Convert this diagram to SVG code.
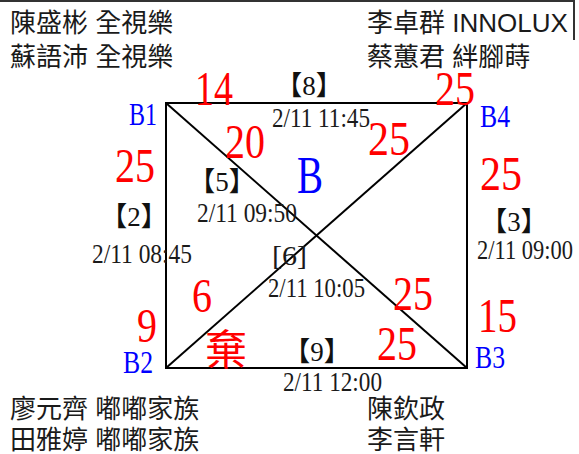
<svg xmlns="http://www.w3.org/2000/svg" width="579" height="454" viewBox="0 0 579 454">
<style>
.name{font-family:"Liberation Sans","Noto Sans CJK TC",sans-serif;font-size:26px;fill:#1a1a1a}
.num{font-family:"Liberation Serif","Noto Sans CJK TC",serif;font-size:48px;fill:#ff0000}
.node{font-family:"Liberation Serif",serif;font-size:32px;fill:#0000ff}
.date{font-family:"Liberation Serif",serif;font-size:28px;fill:#1a1a1a}
.tag{font-family:"Liberation Serif","Noto Sans CJK TC",serif;font-size:27px;fill:#111;text-anchor:middle}
.edge{stroke:#000;stroke-width:2;fill:none}
</style>
<rect width="579" height="454" fill="#fff"/>
<g id="border">
<line x1="0" y1="1" x2="575" y2="1" stroke="#333" stroke-width="2"/>
<line x1="574" y1="0" x2="574" y2="40" stroke="#333" stroke-width="2"/>
</g>
<g id="teams">
<text class="name" x="10" y="32">陳盛彬 全視樂</text>
<text class="name" x="10" y="66">蘇語沛 全視樂</text>
<text class="name" x="367" y="32">李卓群 INNOLUX</text>
<text class="name" x="367" y="66">蔡蕙君 絆腳蒔</text>
<text class="name" x="10" y="418">廖元齊 嘟嘟家族</text>
<text class="name" x="10" y="449">田雅婷 嘟嘟家族</text>
<text class="name" x="367" y="418">陳欽政</text>
<text class="name" x="367" y="449">李言軒</text>
</g>
<g id="connectors">
<line class="edge" x1="165" y1="103" x2="467" y2="103"/>
<line class="edge" x1="166" y1="102" x2="166" y2="369"/>
<line class="edge" x1="467" y1="102" x2="467" y2="369"/>
<line class="edge" x1="165" y1="368" x2="468" y2="368"/>
<line class="edge" x1="166" y1="103" x2="467" y2="368"/>
<line class="edge" x1="467" y1="103" x2="166" y2="368"/>
</g>
<g id="nodes">
<g id="B1"><text class="node" x="129" y="125" textLength="28" lengthAdjust="spacingAndGlyphs">B1</text></g>
<g id="B4"><text class="node" x="480" y="127" textLength="30" lengthAdjust="spacingAndGlyphs">B4</text></g>
<g id="B2"><text class="node" x="123" y="373" textLength="30" lengthAdjust="spacingAndGlyphs">B2</text></g>
<g id="B3"><text class="node" x="475" y="368" textLength="30" lengthAdjust="spacingAndGlyphs">B3</text></g>
</g>
<g id="center">
<text class="node" x="297" y="193" style="font-size:52px" textLength="26" lengthAdjust="spacingAndGlyphs">B</text>
<text class="num" x="205" y="365" style="font-family:'Noto Sans CJK TC',sans-serif;font-size:42px">棄</text>
</g>
<g id="scores">
<text class="num" x="195" y="105" textLength="38" lengthAdjust="spacingAndGlyphs">14</text>
<text class="num" x="225" y="158" textLength="40" lengthAdjust="spacingAndGlyphs">20</text>
<text class="num" x="435" y="105" textLength="40" lengthAdjust="spacingAndGlyphs">25</text>
<text class="num" x="368" y="155" textLength="42" lengthAdjust="spacingAndGlyphs">25</text>
<text class="num" x="115" y="182" textLength="40" lengthAdjust="spacingAndGlyphs">25</text>
<text class="num" x="480" y="190" textLength="42" lengthAdjust="spacingAndGlyphs">25</text>
<text class="num" x="393" y="310" textLength="40" lengthAdjust="spacingAndGlyphs">25</text>
<text class="num" x="478" y="332" textLength="39" lengthAdjust="spacingAndGlyphs">15</text>
<text class="num" x="377" y="360" textLength="40" lengthAdjust="spacingAndGlyphs">25</text>
<text class="num" x="137" y="342" textLength="20" lengthAdjust="spacingAndGlyphs">9</text>
<text class="num" x="192" y="312" textLength="20" lengthAdjust="spacingAndGlyphs">6</text>
</g>
<g id="matches">
<text class="tag" x="309" y="95">【8】</text>
<text class="date" x="272" y="127" textLength="98" lengthAdjust="spacingAndGlyphs">2/11 11:45</text>
<text class="tag" x="222" y="191">【5】</text>
<text class="date" x="197" y="222" textLength="100" lengthAdjust="spacingAndGlyphs">2/11 09:50</text>
<text class="tag" x="134" y="226">【2】</text>
<text class="date" x="92" y="263" textLength="100" lengthAdjust="spacingAndGlyphs">2/11 08:45</text>
<text class="date" x="272" y="265" textLength="35" lengthAdjust="spacingAndGlyphs">[6]</text>
<text class="date" x="268" y="297" textLength="97" lengthAdjust="spacingAndGlyphs">2/11 10:05</text>
<text class="tag" x="514" y="231">【3】</text>
<text class="date" x="477" y="259" textLength="96" lengthAdjust="spacingAndGlyphs">2/11 09:00</text>
<text class="tag" x="317" y="361">【9】</text>
<text class="date" x="283" y="391" textLength="99" lengthAdjust="spacingAndGlyphs">2/11 12:00</text>
</g>
</svg>
